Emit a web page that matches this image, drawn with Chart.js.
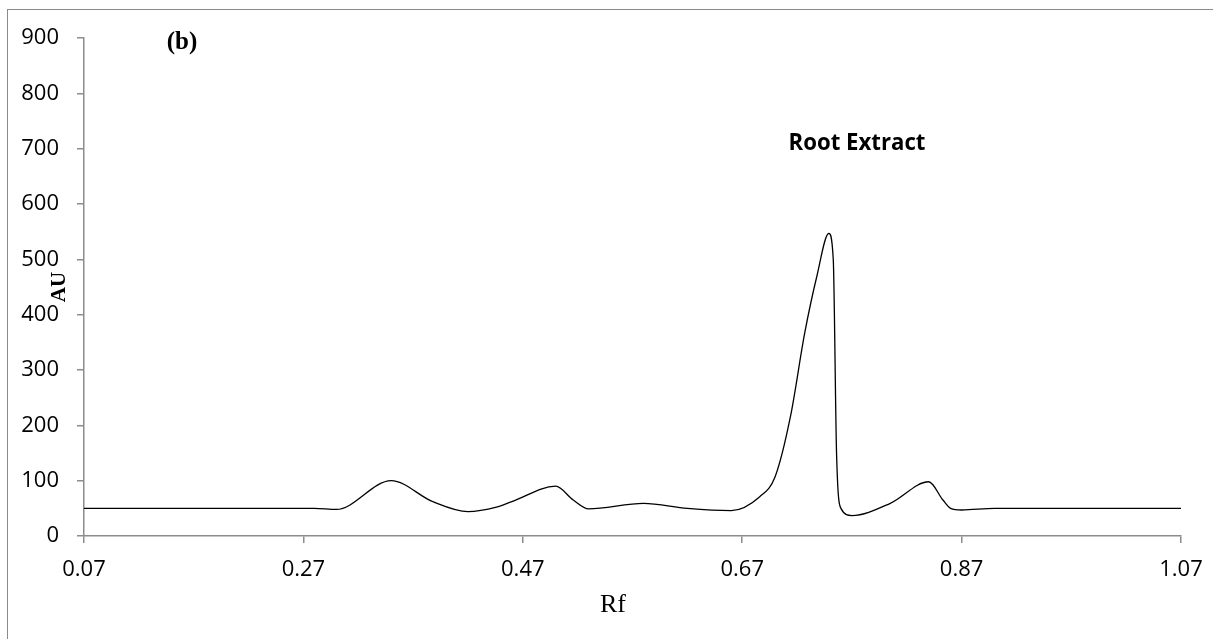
<!DOCTYPE html>
<html>
<head>
<meta charset="utf-8">
<script src="https://cdn.jsdelivr.net/npm/chart.js@4"></script>
<style>
  html, body { margin: 0; padding: 0; background: #fff; }
  #wrap { position: relative; width: 1213px; height: 639px; overflow: hidden; }
  #frame { position: absolute; left: 7px; top: 9px; width: 1300px; height: 700px;
           border-left: 1.5px solid #8a8a8a; border-top: 1.5px solid #8a8a8a; }
  canvas { position: absolute; left: 0; top: 0; }
</style>
</head>
<body>
<div id="wrap">
  <div id="frame"></div>
  <canvas id="grafico" width="1213" height="639"></canvas>
</div>
<script>
// Rf positions
const rfValues = [0.07, 0.28, 0.30, 0.35, 0.388, 0.42, 0.446, 0.46, 0.50, 0.516, 0.53, 0.58, 0.62, 0.66,
  0.686, 0.70, 0.714, 0.727, 0.738, 0.749, 0.753, 0.756, 0.760, 0.770, 0.805, 0.840, 0.853, 0.86, 0.87, 0.90, 1.07];
// AU (absorbance units) at each Rf
const auValues = [50, 50, 48, 100, 62, 44, 52, 62, 90, 65, 49, 59, 50, 46,
  71, 107, 216, 367, 469, 547, 500, 150, 50, 37, 59, 98, 65, 50, 47, 50, 50];

const xTicks = [0.07, 0.27, 0.47, 0.67, 0.87, 1.07];
const yTicks = [0, 100, 200, 300, 400, 500, 600, 700, 800, 900];

const ejeColor = "#8c8c8c";

const textos = {
  id: "textos",
  afterDraw(chart) {
    const ctx = chart.ctx;
    const area = chart.chartArea;
    ctx.save();
    ctx.fillStyle = "#000";
    ctx.textAlign = "center";
    ctx.textBaseline = "middle";

    ctx.font = "bold 25px 'Liberation Serif', 'DejaVu Serif', serif";
    ctx.fillText("(b)", 182, 43);

    ctx.font = "bold 23px 'Open Sans', sans-serif";
    ctx.fillText("Root Extract", 857, 143, 137);

    ctx.font = "26px 'Liberation Serif', serif";
    ctx.fillText("Rf", 613, 605);

    ctx.translate(60, (area.top + area.bottom) / 2);
    ctx.rotate(-Math.PI / 2);
    ctx.font = "bold 21px 'Liberation Serif', serif";
    ctx.fillText("AU", 0, 0);
    ctx.restore();
  },
};

const puntos = rfValues.map((rf, i) => ({ x: rf, y: auValues[i] }));

const config = {
  type: "line",
  data: {
    datasets: [
      {
        label: "Root Extract",
        data: puntos,
        borderColor: "#000",
        borderWidth: 1.3,
        pointRadius: 0,
        fill: false,
        cubicInterpolationMode: "monotone",
      },
    ],
  },
  options: {
    responsive: false,
    animation: false,
    layout: { padding: { top: 38, right: 32, left: 0, bottom: 0 } },
    plugins: { legend: { display: false }, tooltip: { enabled: false } },
    scales: {
      x: {
        type: "linear",
        min: 0.07,
        max: 1.07,
        afterBuildTicks: (scale) => {
          scale.ticks = xTicks.map((v) => ({ value: v }));
        },
        afterFit: (scale) => {
          scale.height = 103;
          scale.paddingRight = 0;
          scale.paddingLeft = 0;
        },
        grid: { drawOnChartArea: false, drawTicks: true, tickLength: 7, color: ejeColor, lineWidth: 1.5 },
        border: { display: true, color: ejeColor, width: 1.5 },
        ticks: {
          autoSkip: false,
          maxRotation: 0,
          padding: 14,
          color: "#000",
          font: { family: "'Open Sans', sans-serif", size: 22 },
          callback: (v) => Number(v).toFixed(2),
        },
      },
      y: {
        min: 0,
        max: 900,
        afterBuildTicks: (scale) => {
          scale.ticks = yTicks.map((v) => ({ value: v }));
        },
        afterFit: (scale) => {
          scale.width = 84;
        },
        grid: { drawOnChartArea: false, drawTicks: true, tickLength: 7, color: ejeColor, lineWidth: 1.5 },
        border: { display: true, color: ejeColor, width: 1.5 },
        ticks: {
          padding: 18,
          color: "#000",
          font: { family: "'Open Sans', sans-serif", size: 22 },
        },
      },
    },
  },
  plugins: [textos],
};

const grafico = new Chart(document.getElementById("grafico"), config);
</script>
</body>
</html>
